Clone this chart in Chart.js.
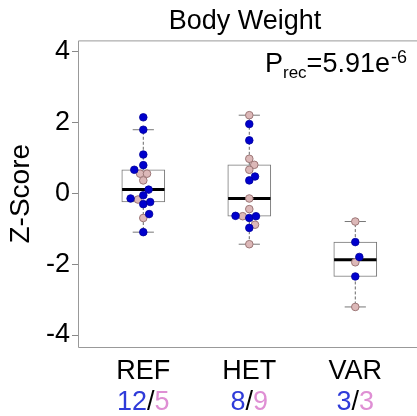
<!DOCTYPE html>
<html>
<head>
<meta charset="utf-8">
<script src="https://cdn.jsdelivr.net/npm/chart.js@4"></script>
<style>
  html, body { margin: 0; padding: 0; background: #fff; }
  #wrap { width: 417px; height: 416px; position: relative; }
</style>
</head>
<body>
<div id="wrap"><canvas id="chart"></canvas></div>
<script>
// groups and the values (blue = first count, pink = second)
const groups = ['REF', 'HET', 'VAR'];
const blueValues = [
    [2.14, 1.79, 1.09, 0.79, 0.66, 0.10, -0.06, -0.15, -0.31, -0.25, -0.59, -1.10],
    [1.95, 1.49, 0.47, 0.36, -0.64, -0.70, -0.65, -0.98],
    [-1.38, -1.80, -2.35]
];
const pinkValues = [
    [0.55, 0.55, 0.36, -0.18, -0.70],
    [2.20, 0.97, 0.80, 0.66, -0.15, -0.45, -0.65, -0.89, -1.44],
    [-0.80, -1.95, -3.21]
];
// horizontal jitter of each point (in category units)
const blueJitter = [
    [0, 0, 0, 0, -0.085, 0.05, 0, -0.12, 0, 0.065, 0.055, 0],
    [0, 0, 0.054, 0, -0.13, 0, 0.063, 0],
    [0, 0.038, 0]
];
const pinkJitter = [
    [-0.03, 0.035, 0, -0.05, 0],
    [0, 0, 0.047, 0, 0, 0, -0.062, 0.054, 0],
    [0, 0, 0]
];
const yTicks = [-4, -2, 0, 2, 4];
const titleText = 'Body Weight';
const pText = { main: 'P', sub: 'rec', value: '=5.91e', sup: '-6' };

const FONT = "'Liberation Sans', Arial, sans-serif";
const BLUE = '#0000cd';
const PINK = '#dcb8b8';
const COUNT_BLUE = '#2f3bd9';
const COUNT_PINK = '#df8fd4';

// R style five number summary + whiskers
function boxStats(arr) {
    const x = [...arr].sort((a, b) => a - b);
    const n = x.length;
    const n4 = Math.floor((n + 3) / 2) / 2;
    const d = [1, n4, (n + 1) / 2, n + 1 - n4, n];
    const f = d.map(v => 0.5 * (x[Math.floor(v) - 1] + x[Math.ceil(v) - 1]));
    const iqr = f[3] - f[1];
    const lo = Math.min(...x.filter(v => v >= f[1] - 1.5 * iqr));
    const hi = Math.max(...x.filter(v => v <= f[3] + 1.5 * iqr));
    return { lo, q1: f[1], med: f[2], q3: f[3], hi };
}

const stats = groups.map((g, i) => boxStats(blueValues[i].concat(pinkValues[i])));

const boxData = stats.map((s, i) => ({ x: i + 1, y: [s.q1, s.q3] }));
const medianData = [];
const whiskerData = [];
const capData = [];
stats.forEach((s, i) => {
    const c = i + 1;
    medianData.push({ x: c - 0.2, y: s.med }, { x: c + 0.2, y: s.med }, { x: c, y: null });
    whiskerData.push({ x: c, y: s.q3 }, { x: c, y: s.hi }, { x: c, y: null });
    whiskerData.push({ x: c, y: s.q1 }, { x: c, y: s.lo }, { x: c, y: null });
    capData.push({ x: c - 0.1, y: s.hi }, { x: c + 0.1, y: s.hi }, { x: c, y: null });
    capData.push({ x: c - 0.1, y: s.lo }, { x: c + 0.1, y: s.lo }, { x: c, y: null });
});

const bluePoints = [];
const pinkPoints = [];
groups.forEach((g, i) => {
    blueValues[i].forEach((v, j) => bluePoints.push({ x: i + 1 + blueJitter[i][j], y: v }));
    pinkValues[i].forEach((v, j) => pinkPoints.push({ x: i + 1 + pinkJitter[i][j], y: v }));
});

// frame, y tick marks, p-value text and the count labels under the groups
const extras = {
    id: 'extras',
    afterDraw(chart) {
        const { ctx, chartArea: a, scales } = chart;
        ctx.save();
        // the plot box is open on the right: clear the strip past the last group
        ctx.fillStyle = '#fff';
        ctx.fillRect(a.right - 3, a.top + 1, chart.width - a.right + 3, a.bottom - a.top);

        ctx.strokeStyle = '#999';
        ctx.lineWidth = 1;
        ctx.beginPath();
        ctx.moveTo(chart.width + 2, a.top + 0.5);
        ctx.lineTo(a.left + 0.5, a.top + 0.5);
        ctx.lineTo(a.left + 0.5, a.bottom + 0.5);
        ctx.lineTo(chart.width + 2, a.bottom + 0.5);
        ctx.stroke();

        ctx.strokeStyle = '#888';
        ctx.beginPath();
        yTicks.forEach(v => {
            const py = Math.round(scales.y.getPixelForValue(v)) + 0.5;
            ctx.moveTo(a.left - 6, py);
            ctx.lineTo(a.left, py);
        });
        ctx.stroke();

        // P_rec = 5.91e-6
        ctx.fillStyle = '#000';
        ctx.textBaseline = 'alphabetic';
        ctx.textAlign = 'left';
        let x = 265;
        ctx.font = '27px ' + FONT;
        ctx.fillText(pText.main, x, 72);
        x += ctx.measureText(pText.main).width;
        ctx.font = '17px ' + FONT;
        ctx.fillText(pText.sub, x, 78);
        x += ctx.measureText(pText.sub).width;
        ctx.font = '27px ' + FONT;
        ctx.fillText(pText.value, x, 72);
        x += ctx.measureText(pText.value).width;
        ctx.font = '18px ' + FONT;
        ctx.fillText(pText.sup, x + 1, 63);

        // counts
        ctx.font = '27px ' + FONT;
        groups.forEach((g, i) => {
            const parts = [[String(blueValues[i].length), COUNT_BLUE], ['/', '#000'], [String(pinkValues[i].length), COUNT_PINK]];
            const w = parts.reduce((s, p) => s + ctx.measureText(p[0]).width, 0);
            let px = scales.x.getPixelForValue(i + 1) - w / 2;
            parts.forEach(p => {
                ctx.fillStyle = p[1];
                ctx.fillText(p[0], px, 410);
                px += ctx.measureText(p[0]).width;
            });
        });
        ctx.restore();
    }
};

new Chart(document.getElementById('chart'), {
    type: 'bar',
    data: {
        datasets: [
            {
                type: 'line',
                label: 'blue',
                data: bluePoints,
                showLine: false,
                backgroundColor: BLUE,
                borderColor: '#00009a',
                pointBackgroundColor: BLUE,
                pointBorderColor: '#00009a',
                pointBorderWidth: 0.8,
                pointRadius: 3.8,
                order: 0
            },
            {
                type: 'line',
                label: 'pink',
                data: pinkPoints,
                showLine: false,
                backgroundColor: PINK,
                borderColor: '#9c7676',
                pointBackgroundColor: PINK,
                pointBorderColor: '#9c7676',
                pointBorderWidth: 1,
                pointRadius: 3.8,
                order: 1
            },
            {
                type: 'line',
                label: 'median',
                data: medianData,
                borderColor: '#000',
                borderWidth: 3,
                pointRadius: 0,
                spanGaps: false,
                order: 2
            },
            {
                type: 'line',
                label: 'caps',
                data: capData,
                borderColor: '#777',
                borderWidth: 1,
                pointRadius: 0,
                spanGaps: false,
                order: 3
            },
            {
                type: 'line',
                label: 'whiskers',
                data: whiskerData,
                borderColor: '#666',
                borderWidth: 1,
                borderDash: [3, 2],
                pointRadius: 0,
                spanGaps: false,
                order: 4
            },
            {
                type: 'bar',
                label: 'box',
                data: boxData,
                backgroundColor: '#fff',
                borderColor: '#777',
                borderWidth: 1,
                borderSkipped: false,
                barThickness: 43,
                grouped: false,
                order: 5
            }
        ]
    },
    options: {
        responsive: true,
        maintainAspectRatio: false,
        animation: false,
        plugins: {
            legend: { display: false },
            tooltip: { enabled: false },
            title: {
                display: true,
                text: titleText,
                fullSize: false,
                color: '#000',
                font: { family: FONT, size: 27, weight: 'normal', lineHeight: 1.2 },
                padding: { top: 5, bottom: 3 }
            }
        },
        scales: {
            x: {
                type: 'linear',
                min: 0.384,
                max: 3.535,
                offset: false,
                grid: { display: false, drawTicks: false },
                border: { display: false },
                afterBuildTicks: axis => { axis.ticks = groups.map((g, i) => ({ value: i + 1 })); },
                afterFit: axis => { axis.height = 69; },
                ticks: {
                    autoSkip: false,
                    maxRotation: 0,
                    padding: 8,
                    color: '#000',
                    font: { family: FONT, size: 27 },
                    callback: v => groups[Math.round(v) - 1]
                }
            },
            y: {
                min: -4.34,
                max: 4.31,
                grid: { display: false, drawTicks: false },
                border: { display: false },
                afterBuildTicks: axis => { axis.ticks = yTicks.map(v => ({ value: v })); },
                afterFit: axis => { axis.width = 78; },
                ticks: {
                    padding: 8,
                    color: '#000',
                    font: { family: FONT, size: 27 },
                    callback: v => String(v)
                },
                title: {
                    display: true,
                    text: 'Z-Score',
                    color: '#000',
                    font: { family: FONT, size: 28 },
                    padding: { top: 4, bottom: 0 }
                }
            }
        }
    },
    plugins: [extras]
});
</script>
</body>
</html>
